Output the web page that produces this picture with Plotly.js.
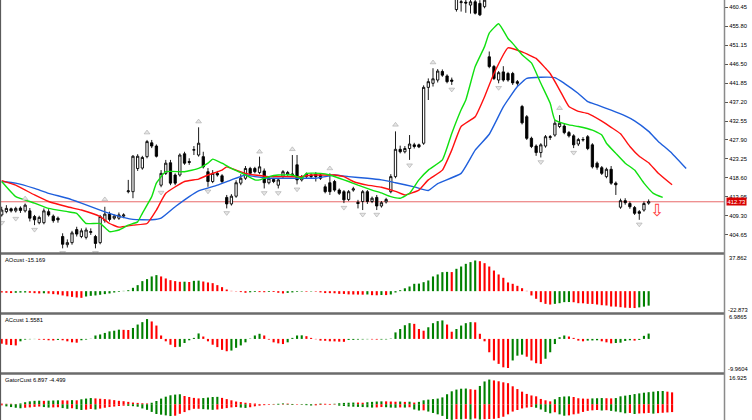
<!DOCTYPE html>
<html><head><meta charset="utf-8">
<script src="https://cdn.plot.ly/plotly-3.0.1.min.js"></script>
<style>html,body{margin:0;padding:0;background:#fff}#c{width:752px;height:420px}</style>
</head><body><div id="c"></div>
<script>
// ---- price candles ----
const opens  = [409.5,410.3,411.0,410.5,411.2,410.5,410.5,409.1,407.6,407.6,410.3,409.2,408.7,404.2,402.2,402.7,405.9,404.2,404.0,405.2,404.2,402.7,408.1,409.7,408.7,408.7,409.2,415.2,415.2,420.9,421.0,423.8,427.2,426.4,416.8,419.7,422.3,419.3,419.3,424.5,422.6,425.4,424.2,423.8,420.1,417.7,419.7,419.1,413.8,412.2,414.1,417.3,418.5,420.9,420.9,419.9,420.3,417.4,418.2,416.8,419.0,419.5,419.3,421.8,418.1,418.9,419.3,419.5,419.3,416.4,417.4,417.7,415.6,415.2,413.3,415.6,412.6,412.8,415.2,412.8,413.8,411.7,412.7,415.2,418.9,425.6,425.0,425.8,426.7,426.7,427.1,440.8,441.8,442.6,444.7,443.6,442.6,459.9,461.6,461.7,461.0,461.8,461.4,460.6,448.3,445.9,442.6,444.6,444.2,444.2,442.2,436.1,433.6,428.3,426.4,424.8,426.4,428.5,429.1,431.2,431.3,429.7,428.9,426.9,427.9,428.7,426.7,422.2,421.1,418.9,420.7,417.3,411.4,413.0,412.3,411.3,410.3,410.7,412.4];
const highs  = [411.5,411.9,411.3,411.5,411.6,412.3,411.2,409.5,409.3,411.1,410.9,409.6,409.1,405.0,403.5,405.6,406.6,406.2,406.4,406.2,404.6,409.5,411.5,410.3,409.6,410.1,409.9,418.1,424.2,424.4,424.0,427.9,427.9,426.8,420.5,423.0,423.0,419.7,424.6,425.0,423.4,426.4,431.0,425.0,421.0,420.5,420.3,419.5,414.4,414.6,418.0,419.5,421.5,421.3,421.3,423.8,420.9,419.0,418.6,418.5,420.5,420.3,424.2,424.2,419.3,419.9,419.7,420.0,419.7,417.0,419.7,418.1,416.0,415.6,415.6,416.4,413.2,415.6,415.6,414.0,414.4,412.9,413.7,419.5,430.0,426.5,426.4,429.1,427.2,427.0,441.3,443.0,445.5,445.3,445.2,444.0,443.2,464.0,462.8,463.0,463.0,463.0,462.2,463.5,449.6,446.3,444.8,446.0,444.6,444.6,442.6,436.5,434.0,428.7,426.8,427.1,429.1,429.1,432.8,434.0,432.0,430.1,429.3,428.4,428.6,429.1,427.1,422.6,421.5,421.1,421.5,417.7,413.5,413.6,412.8,411.7,410.7,412.8,413.3];
const lows   = [409.1,409.9,410.1,410.1,410.0,410.1,407.9,407.0,407.2,407.2,409.1,407.6,407.6,401.3,401.5,402.2,404.2,403.8,403.5,404.6,401.3,402.3,407.6,407.9,408.3,408.3,408.7,414.8,413.6,420.3,420.6,423.4,425.9,423.6,416.3,419.3,416.8,416.8,418.9,421.8,421.8,424.2,423.8,420.9,416.4,417.3,418.9,417.3,411.1,411.8,413.7,416.8,418.1,419.3,419.7,419.5,416.0,417.0,417.3,416.0,418.5,419.1,418.9,417.0,417.7,418.5,418.5,417.7,418.1,414.8,414.4,415.2,414.4,412.4,412.9,415.2,411.1,410.7,412.2,412.4,410.7,411.3,412.3,414.8,418.5,424.6,424.6,423.0,425.8,425.9,426.7,437.7,441.0,442.0,443.4,441.8,441.4,459.4,459.4,459.1,458.9,458.7,458.3,460.2,445.5,442.6,441.8,442.2,442.2,441.4,441.2,431.7,427.9,425.9,424.0,423.6,426.0,427.9,428.7,430.8,429.3,428.5,425.9,426.4,427.5,425.4,420.9,420.6,419.3,418.5,416.9,414.4,411.0,412.0,411.0,409.5,408.3,410.3,412.0];
const closes = [410.7,411.1,410.5,411.1,410.6,411.9,408.7,408.3,408.9,410.5,409.5,408.1,408.3,402.3,402.7,405.1,404.8,405.6,405.8,405.4,402.5,409.1,409.7,408.4,409.2,409.5,409.5,415.4,423.9,423.9,423.6,427.5,426.4,423.9,419.7,422.2,417.3,417.3,424.2,422.2,422.4,425.5,427.1,421.3,417.7,419.7,419.3,417.7,412.2,414.1,417.4,418.5,420.9,419.7,420.1,421.3,417.4,418.5,417.7,418.1,420.1,419.9,419.5,418.1,418.9,419.5,418.9,418.9,418.5,415.2,415.2,415.6,414.8,413.2,415.2,415.9,412.3,415.2,412.8,413.6,411.7,412.5,413.3,418.9,425.6,425.0,425.8,426.9,426.3,426.2,440.8,442.2,442.9,444.8,443.8,442.2,442.3,463.5,461.8,461.5,461.8,459.0,458.6,462.2,445.9,443.0,444.4,442.6,442.6,441.9,441.8,432.1,428.3,426.3,424.8,426.7,428.7,428.7,432.0,432.0,429.7,428.9,426.7,428.0,428.0,425.8,421.3,421.2,419.7,420.7,417.3,416.9,413.0,412.5,411.5,409.9,409.9,412.3,412.73];

// ---- Alligator lines (shifted positions as drawn) ----
const jawX  = [0,3,7,10,14,17,21,24,28,32,34,37,40,42,46,49,52,54,57,60,64,67,69,71,74,78,81,84,88,91,93,98,101,104,107,110,112,115,118,120,123,125,127,130,133,135,138,140,143,146];
const jawY  = [417.7,417.3,416.0,414.8,413.6,412.4,410.7,409.5,408.4,408.3,408.7,411.5,414.0,415.4,416.8,418.1,419.3,418.9,418.5,418.5,418.5,418.5,418.9,419.3,418.9,418.5,418.1,417.4,416.4,415.5,417.2,419.7,425.4,429.3,436.0,441.0,443.0,443.3,443.2,441.8,439.3,437.3,436.5,435.2,433.8,432.6,430.0,427.6,424.6,420.9];
const teethX = [0,3,7,10,14,17,21,23,25,28,31,33,35,39,42,44,47,48,50,52,54,57,60,64,66,68,71,73,75,78,81,84,86,89,91,94,96,98,101,103,105,108,111,114,116,117,119,121,123,125,128,130,132,134,136,138,140,143];
const teethY = [417.9,416.8,414.4,412.8,411.5,410.7,409.1,407.4,406.5,407.0,407.4,410.7,414.8,417.7,418.3,419.3,420.5,421.3,420.5,419.7,419.3,418.9,418.9,418.9,419.3,419.3,419.3,418.9,417.7,416.8,416.3,415.3,414.4,415.6,418.1,420.5,425.4,431.2,433.6,438.5,444.2,450.5,449.5,447.9,445.5,444.2,440.2,436.1,434.9,434.4,432.5,431.0,429.4,426.3,423.9,422.3,419.8,416.9];
const lipsX = [0,3,7,10,14,16,18,21,23,25,27,29,30,32,33,35,39,42,44,45,47,49,52,54,55,57,59,62,64,65,68,70,72,74,76,79,81,83,85,87,89,91,94,96,98,99,101,103,104,106,108,109,111,113,115,117,118,121,123,126,128,129,131,133,135,137,139,141];
const lipsY = [417.7,414.0,412.4,411.1,410.3,409.9,407.4,407.4,405.4,405.8,407.0,407.8,409.9,414.0,417.3,420.1,420.1,420.9,422.2,423.2,422.2,420.9,419.3,418.1,418.1,418.9,419.3,419.3,418.5,419.7,419.7,419.3,418.5,417.7,416.8,415.6,414.9,414.0,413.6,414.8,418.1,420.5,423.0,429.5,435.3,437.7,445.9,450.8,454.1,456.4,452.8,451.6,448.8,446.8,441.8,436.9,432.8,431.6,431.2,430.3,429.1,427.1,424.6,422.2,420.5,417.3,414.8,413.8];

// ---- fractals and signal ----
const fracUpX = [5,22,31,42,55,62,70,84,92,119];
const fracUpY = [413.5,413.3,429.7,432.4,425.0,425.6,420.9,431.6,446.9,435.7];
const fracDnX = [0,3,7,13,20,34,44,48,56,59,63,73,77,80,87,96,106,115,122,136];
const fracDnY = [407.6,408.6,405.9,400.2,400.2,415.0,415.3,410.0,414.9,414.9,415.8,411.3,409.6,409.6,421.7,440.3,440.7,422.5,424.8,407.2];
const signalX = [139.8];
const signalY = [410.3];

// ---- price axis ticks ----
const priceTicks = [460.45,455.80,451.15,446.50,441.85,437.20,432.55,427.90,423.25,418.60,413.95,409.30,404.65];

// ---- AO / AC ----
const ao = [-1.4,-1.7,-2.0,-1.7,-1.5,-1.4,-1.7,-2.1,-2.4,-2.2,-2.5,-3.1,-3.5,-4.5,-5.4,-6.0,-6.6,-7.0,-5.6,-4.9,-4.5,-3.8,-3.1,-2.4,-1.4,-0.7,0.3,1.0,3.5,6.3,10.5,12.6,15.4,16.8,15.4,13.3,11.5,10.5,9.8,9.9,9.6,10.8,11.0,10.1,9.1,8.4,6.3,4.2,1.7,0.3,-0.3,-1.0,-1.7,-1.2,-0.8,-1.0,-1.1,-0.8,-0.9,-1.7,-2.4,-1.8,-1.3,-0.7,-0.5,-0.6,-0.4,-0.5,-1.3,-2.0,-2.1,-2.2,-2.8,-2.9,-3.4,-3.5,-3.6,-3.7,-3.5,-4.2,-4.3,-4.0,-4.1,-3.5,-1.4,1.0,3.0,4.9,7.7,7.9,9.4,11.2,15.4,17.5,19.9,20.2,20.0,23.4,25.8,28.6,30.4,32.1,31.4,29.3,25.8,21.6,17.5,14.0,9.1,7.7,5.6,3.1,0.3,-4.5,-8.0,-11.5,-13.3,-14.0,-13.3,-12.6,-11.5,-11.4,-11.6,-12.6,-12.7,-13.3,-13.4,-14.0,-14.7,-15.0,-16.1,-16.2,-16.8,-17.3,-17.5,-17.7,-17.0,-16.2,-15.169];
const ac = [-1.4,-1.7,-1.8,-1.9,-0.7,-0.2,-0.1,-0.05,-0.2,-0.25,-0.4,-0.45,-0.3,-0.4,-0.7,-1.0,-1.1,-0.4,-0.2,0.05,1.0,1.3,1.75,2.2,2.4,2.7,2.65,2.6,3.2,4.2,4.9,5.8,5.1,3.9,1.0,-0.7,-1.7,-2.4,-2.3,-1.2,-0.4,0.3,1.6,0.7,-0.7,-1.7,-2.4,-3.2,-3.6,-3.4,-2.6,-1.9,-1.0,0.1,1.0,1.5,1.0,-0.2,-1.0,-1.3,-1.5,-1.0,0.3,1.0,1.05,0.8,0.3,-0.1,-0.5,-0.55,-0.7,-0.72,-0.8,-0.85,-0.3,-0.28,-0.2,-0.15,-0.1,-0.15,-0.2,-0.18,-0.15,0.1,1.9,2.9,4.0,4.6,4.4,2.9,2.4,3.4,4.6,5.2,5.4,4.2,2.1,2.9,3.9,4.6,4.9,4.85,1.5,-0.7,-3.9,-6.3,-7.3,-8.3,-8.5,-6.3,-4.9,-4.6,-5.2,-6.3,-7.1,-7.3,-5.8,-3.9,-1.5,0.5,1.0,0.7,0.3,-0.5,-0.7,-0.5,-0.45,-0.4,-0.7,-1.0,-1.3,-1.2,-1.1,-0.6,-0.4,-0.5,-0.3,0.9,1.5581];

// ---- Gator (upper = |jaw-teeth|, lower = |teeth-lips|) ----
const gatorUp = [0.4,0.3,0.3,0.2,0.5,1.2,1.7,2.0,2.1,2.0,2.1,2.2,2.3,2.3,2.2,2.4,2.3,2.9,3.3,3.6,3.4,3.2,3.0,2.8,2.4,2.0,1.8,1.4,1.0,0.8,0.6,0.5,0.9,1.9,3.3,4.4,5.2,5.6,5.8,4.8,4.2,3.7,3.4,3.6,3.9,4.2,4.3,3.7,3.0,2.3,1.6,1.3,0.9,0.6,0.4,0.2,0.1,0.1,0.2,0.3,0.5,0.4,0.2,0.1,0.1,0.2,0.1,0.2,0.4,0.3,0.2,0.3,0.6,0.8,0.9,1.0,1.0,0.9,1.2,1.4,1.6,1.7,1.7,1.6,1.5,1.6,1.4,1.5,1.0,1.4,2.3,2.7,3.0,3.3,4.0,5.8,7.5,8.5,9.0,9.1,8.7,8.4,10.6,13.2,14.3,13.8,13.3,12.7,12.2,10.4,8.8,7.3,6.0,5.1,4.6,3.1,2.3,1.7,2.9,4.2,4.5,4.6,4.2,3.5,3.3,3.2,3.4,3.5,3.6,3.5,3.4,3.6,4.6,5.0,5.4,5.9,6.3,6.7,7.0,7.3,7.6,7.7,7.3,6.897];
const gatorDown = [0.6,1.2,1.6,2.0,2.3,2.0,1.8,1.5,1.3,1.6,1.9,1.8,1.7,2.2,2.6,2.3,2.8,3.3,3.1,2.7,3.0,2.5,2.0,1.6,1.3,1.0,0.8,0.9,1.1,1.4,2.4,3.2,4.4,5.6,6.0,6.4,6.8,6.6,5.5,4.5,3.4,2.6,2.6,2.8,3.0,3.2,3.0,2.6,2.2,1.8,1.6,1.9,2.1,1.7,1.2,0.8,0.5,0.3,0.2,0.3,0.2,0.3,0.4,0.2,0.3,0.5,0.7,0.6,0.4,0.3,0.3,0.2,0.8,1.0,1.3,1.4,1.5,1.6,1.7,1.9,1.8,1.6,1.7,1.9,2.0,1.8,1.9,1.7,3.0,3.6,3.5,4.2,5.0,5.8,6.7,8.5,9.0,8.6,8.7,8.4,8.8,8.2,8.8,8.6,8.5,8.4,8.0,7.2,5.8,4.2,3.3,2.4,1.9,1.6,2.0,3.0,4.4,5.2,4.6,5.8,6.6,6.4,5.8,5.4,4.4,3.8,3.5,3.3,3.6,3.4,3.8,4.2,4.6,5.2,5.0,5.6,5.3,5.2,5.0,5.4,5.1,4.9,4.7,4.499];

// ---- sub-window scale labels ----
const aoScale = [37.862, -22.873];
const acScale = [6.9865, -9.9604];
const gatorTop = 16.925;

// ================= drawing =================
const GREEN = '#008000', RED = '#ff0000';
const FONT = 'Liberation Sans';
const PW = 724, PH = 420;
const idx = n => Array.from({length:n}, (_, i) => i);
const riseColors = v => v.map((x, i) => (i > 0 && x > v[i-1]) ? GREEN : RED);
const py = y => 1 - y / PH;

const nC = closes.length;
const traces = [];

traces.push({type:'candlestick', x: idx(nC), open: opens, high: highs, low: lows, close: closes,
  xaxis:'x', yaxis:'y', whiskerwidth:0,
  increasing:{line:{color:'#000', width:0.9}, fillcolor:'#ffffff'},
  decreasing:{line:{color:'#000', width:0.9}, fillcolor:'#000000'},
  hoverinfo:'skip'});

traces.push({type:'scatter', mode:'lines', x: jawX, y: jawY, line:{color:'#1f5fdc', width:1.4, shape:'spline', smoothing:0.4}, xaxis:'x', yaxis:'y'});
traces.push({type:'scatter', mode:'lines', x: teethX, y: teethY, line:{color:'#ff1010', width:1.4, shape:'spline', smoothing:0.4}, xaxis:'x', yaxis:'y'});
traces.push({type:'scatter', mode:'lines', x: lipsX, y: lipsY, line:{color:'#10e010', width:1.4, shape:'spline', smoothing:0.4}, xaxis:'x', yaxis:'y'});

traces.push({type:'scatter', mode:'markers', x: fracUpX, y: fracUpY, xaxis:'x', yaxis:'y',
  marker:{symbol:'triangle-up', size:5, color:'#e6e6e6', line:{color:'#a8a8a8', width:0.6}}});
traces.push({type:'scatter', mode:'markers', x: fracDnX, y: fracDnY, xaxis:'x', yaxis:'y',
  marker:{symbol:'triangle-down', size:5, color:'#e6e6e6', line:{color:'#a8a8a8', width:0.6}}});
traces.push({type:'scatter', mode:'text', x: signalX, y: signalY, text: signalX.map(()=> '\u21E9'),
  textfont:{family:'DejaVu Sans', size:17, color:'#ff3b3b'}, xaxis:'x', yaxis:'y', cliponaxis:false});

traces.push({type:'bar', x: idx(ao.length), y: ao, width:0.45, marker:{color: riseColors(ao), line:{width:0}}, xaxis:'x', yaxis:'y2'});
traces.push({type:'bar', x: idx(ac.length), y: ac, width:0.45, marker:{color: riseColors(ac), line:{width:0}}, xaxis:'x', yaxis:'y3'});
traces.push({type:'bar', x: idx(gatorUp.length), y: gatorUp, width:0.45, marker:{color: riseColors(gatorUp), line:{width:0}}, xaxis:'x', yaxis:'y4'});
traces.push({type:'bar', x: idx(gatorDown.length), y: gatorDown.map(v => -v), width:0.45, marker:{color: riseColors(gatorDown), line:{width:0}}, xaxis:'x', yaxis:'y4'});

const x0 = -(1.7/4.688), x1 = (PW - 1.7)/4.688;
const yMin = 462.24 - 0.24538*253, yMax = 462.24;
const lastClose = closes[nC-1];

const hidden = {showgrid:false, zeroline:false, showticklabels:false, ticks:'', showline:false, fixedrange:true};
const lab = (text, xpx, ypx) => ({xref:'paper', yref:'paper', x: xpx/PW, y: py(ypx), xanchor:'left', yanchor:'middle',
  showarrow:false, text, font:{family:FONT, size:5.8, color:'#000'}});

const layout = {
  width:752, height:420, margin:{l:0, r:28, t:0, b:0},
  paper_bgcolor:'#fff', plot_bgcolor:'#fff', showlegend:false, barmode:'overlay',
  xaxis: Object.assign({}, hidden, {domain:[0,1], range:[x0, x1], rangeslider:{visible:false}}),
  yaxis: {domain:[py(253),1], range:[yMin, yMax], side:'right', showgrid:false, zeroline:false,
    tickvals: priceTicks, ticktext: priceTicks.map(v => v.toFixed(2)), ticks:'outside', ticklen:3, tickcolor:'#555',
    tickfont:{family:FONT, size:5.8, color:'#000'}, showline:false, fixedrange:true},
  yaxis2: Object.assign({}, hidden, {domain:[py(313), py(255)], range:[aoScale[1], aoScale[0]], anchor:'x'}),
  yaxis3: Object.assign({}, hidden, {domain:[py(373), py(315)], range:[acScale[1], acScale[0]], anchor:'x'}),
  yaxis4: Object.assign({}, hidden, {domain:[0, py(375)], range:[gatorTop - 26.0, gatorTop], anchor:'x'}),
  shapes: [
    {type:'line', xref:'paper', yref:'y', x0:0, x1:1, y0:lastClose, y1:lastClose, line:{color:'#e86a6a', width:1}, layer:'below'},
    {type:'line', xref:'paper', yref:'paper', x0:0, x1:1, y0:py(253.5), y1:py(253.5), line:{color:'#6b6b6b', width:2.5}},
    {type:'line', xref:'paper', yref:'paper', x0:0, x1:1, y0:py(313.5), y1:py(313.5), line:{color:'#6b6b6b', width:2.5}},
    {type:'line', xref:'paper', yref:'paper', x0:0, x1:1, y0:py(373.5), y1:py(373.5), line:{color:'#6b6b6b', width:2.5}},
    {type:'line', xref:'paper', yref:'paper', x0:1.0007, x1:1.0007, y0:0, y1:1, line:{color:'#8a8a8a', width:1.5}},
    {type:'line', xref:'paper', yref:'paper', x0:0.0007, x1:0.0007, y0:0, y1:1, line:{color:'#5a5a5a', width:1.2}}
  ],
  annotations: [
    lab('AOcust ' + ao[ao.length-1], 3, 259.5),
    lab('ACcust ' + ac[ac.length-1], 3, 320),
    lab('GatorCust ' + gatorUp[gatorUp.length-1] + ' -' + gatorDown[gatorDown.length-1], 3, 380),
    lab(String(aoScale[0]), 727, 257.5),
    lab(String(aoScale[1]), 725.5, 310),
    lab(String(acScale[0]), 727, 316.8),
    lab(String(acScale[1]), 725.5, 369.3),
    lab(String(gatorTop), 727, 377.5),
    {xref:'paper', yref:'y', x: 725.5/PW, y: lastClose, xanchor:'left', yanchor:'middle', showarrow:false,
     text: lastClose.toFixed(2), bgcolor:'#d80000', borderpad:0.5, font:{family:FONT, size:5.8, color:'#fff'}}
  ]
};

Plotly.newPlot('c', traces, layout, {staticPlot:true, displayModeBar:false});
</script>
</body></html>
